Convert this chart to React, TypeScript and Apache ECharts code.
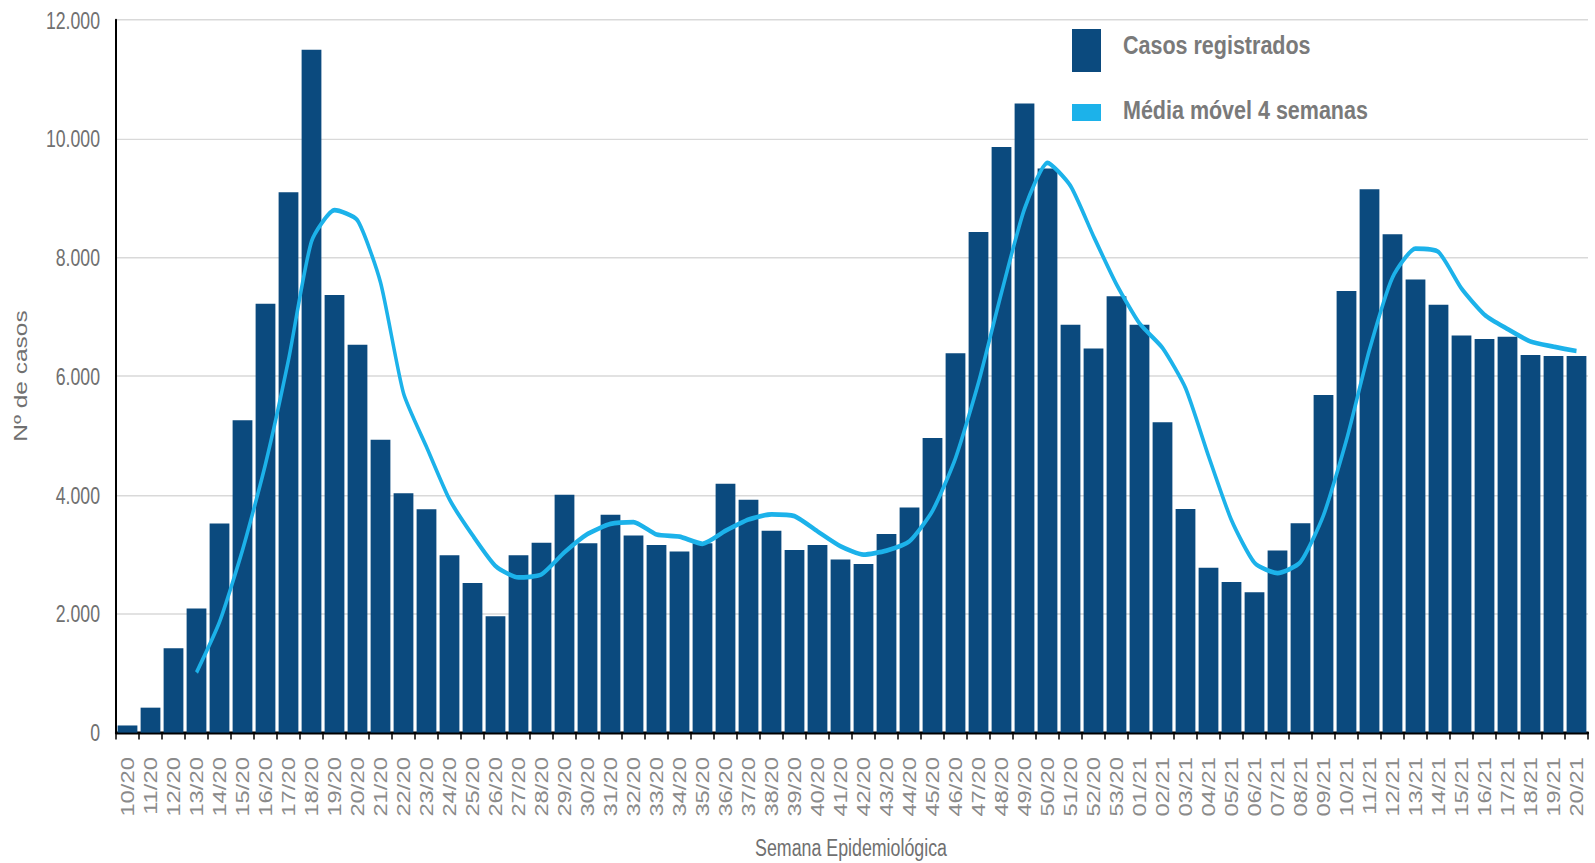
import React, { useEffect, useRef } from "react";
import * as echarts from "echarts";

const semanas = [
  "10/20","11/20","12/20","13/20","14/20","15/20","16/20","17/20","18/20","19/20",
  "20/20","21/20","22/20","23/20","24/20","25/20","26/20","27/20","28/20","29/20",
  "30/20","31/20","32/20","33/20","34/20","35/20","36/20","37/20","38/20","39/20",
  "40/20","41/20","42/20","43/20","44/20","45/20","46/20","47/20","48/20","49/20",
  "50/20","51/20","52/20","53/20",
  "01/21","02/21","03/21","04/21","05/21","06/21","07/21","08/21","09/21","10/21",
  "11/21","12/21","13/21","14/21","15/21","16/21","17/21","18/21","19/21","20/21",
];

const casosRegistrados = [
  120, 420, 1420, 2090, 3520, 5260, 7220, 9100, 11500, 7370,
  6530, 4930, 4030, 3760, 2985, 2520, 1960, 2985, 3195, 4005,
  3190, 3670, 3320, 3160, 3050, 3190, 4190, 3920, 3400, 3075,
  3160, 2915, 2840, 3345, 3790, 4960, 6390, 8430, 9860, 10595,
  9500, 6870, 6470, 7350,
  6870, 5225, 3765, 2775, 2535, 2365, 3065, 3525, 5685, 7435,
  9150, 8390, 7630, 7205, 6685, 6630, 6665, 6360, 6340, 6340,
];

const mediaMovel = [
  null, null, null, 1012, 1862, 3072, 4522, 6275, 8270, 8797,
  8625, 7582, 5715, 4812, 3926, 3324, 2806, 2612, 2665, 3036,
  3344, 3515, 3546, 3335, 3300, 3180, 3398, 3588, 3675, 3646,
  3389, 3138, 2998, 3065, 3222, 3734, 4621, 5892, 7410, 8819,
  9596, 9206, 8359, 7548,
  6890, 6479, 5802, 4659, 3575, 2860, 2685, 2872, 3660, 4928,
  6449, 7665, 8151, 8094, 7478, 7038, 6796, 6585, 6499, 6426,
];

const yTicks = { min: 0, max: 12000, interval: 2000 };

const NOME_BARRAS = "Casos registrados";
const NOME_LINHA = "Média móvel 4 semanas";
const TITULO_X = "Semana Epidemiológica";
const TITULO_Y = "Nº de casos";

const COR_BARRA = "#0b4a7e";
const COR_LINHA = "#1cb2ea";
const FONT = "'Liberation Sans', Arial, sans-serif";

// the reference is drawn vertically stretched
const S = 1.36;
const W = 1595;
const H = 863 / S;

function fmt(v: number) {
  return String(v).replace(/\B(?=(\d{3})+(?!\d))/g, ".");
}

export default function App() {
  const ref = useRef<HTMLDivElement>(null);

  useEffect(() => {
    document.body.style.margin = "0";
    const chart = echarts.init(ref.current!, null, { renderer: "svg" });
    chart.setOption({
      animation: false,
      backgroundColor: "#ffffff",
      grid: { left: 116, right: 7, top: 20 / S, bottom: H - 732 / S, containLabel: false },
      xAxis: {
        type: "category",
        data: semanas,
        boundaryGap: true,
        axisLine: { show: true, lineStyle: { color: "#000000", width: 2.2 } },
        axisTick: { show: true, alignWithLabel: false, length: 5, lineStyle: { color: "#000000", width: 1.5 } },
        axisLabel: {
          interval: 0,
          rotate: 90,
          margin: 18,
          fontSize: 17.5,
          fontFamily: FONT,
          color: "#8a8a8a",
        },
        splitLine: { show: false },
      },
      yAxis: {
        type: "value",
        min: yTicks.min,
        max: yTicks.max,
        interval: yTicks.interval,
        axisLine: { show: true, lineStyle: { color: "#000000", width: 2 } },
        axisTick: { show: false },
        axisLabel: {
          margin: 16,
          fontSize: 17.7,
          fontFamily: FONT,
          color: "#707070",
          formatter: (v: number) => fmt(v),
        },
        splitLine: { show: true, lineStyle: { color: "#d9d9d9", width: 1 } },
      },
      series: [
        {
          name: NOME_BARRAS,
          type: "bar",
          data: casosRegistrados,
          barCategoryGap: "14%",
          itemStyle: { color: COR_BARRA },
        },
        {
          name: NOME_LINHA,
          type: "line",
          data: mediaMovel,
          smooth: 0.2,
          symbol: "none",
          connectNulls: false,
          lineStyle: { color: COR_LINHA, width: 3.5 },
          itemStyle: { color: COR_LINHA },
          z: 3,
        },
      ],
      graphic: [
        { type: "rect", left: 1072, top: 29 / S, shape: { width: 29, height: 43 / S }, style: { fill: COR_BARRA } },
        { type: "rect", left: 1072, top: 104 / S, shape: { width: 29, height: 17 / S }, style: { fill: COR_LINHA } },
        {
          type: "text",
          x: 1123,
          y: 45 / S,
          scaleY: 0.88,
          style: {
            text: NOME_BARRAS,
            fontSize: 21.5,
            fontWeight: "bold",
            fontFamily: FONT,
            fill: "#7a7a7a",
            verticalAlign: "middle",
            align: "left",
          },
        },
        {
          type: "text",
          x: 1123,
          y: 110 / S,
          scaleY: 0.88,
          style: {
            text: NOME_LINHA,
            fontSize: 21.5,
            fontWeight: "bold",
            fontFamily: FONT,
            fill: "#7a7a7a",
            verticalAlign: "middle",
            align: "left",
          },
        },
        {
          type: "text",
          x: 851,
          y: 848 / S,
          style: {
            text: TITULO_X,
            fontSize: 17.8,
            fontFamily: FONT,
            fill: "#707070",
            align: "center",
            verticalAlign: "middle",
          },
        },
        {
          type: "text",
          x: 21,
          y: 376 / S,
          rotation: Math.PI / 2,
          style: {
            text: TITULO_Y,
            fontSize: 18,
            fontFamily: FONT,
            fill: "#707070",
            align: "center",
            verticalAlign: "middle",
          },
        },
      ],
    });
    return () => chart.dispose();
  }, []);

  return (
    <div
      ref={ref}
      style={{
        position: "fixed",
        left: 0,
        top: 0,
        width: W,
        height: H,
        transform: `scaleY(${S})`,
        transformOrigin: "0 0",
        background: "#fff",
      }}
    />
  );
}
